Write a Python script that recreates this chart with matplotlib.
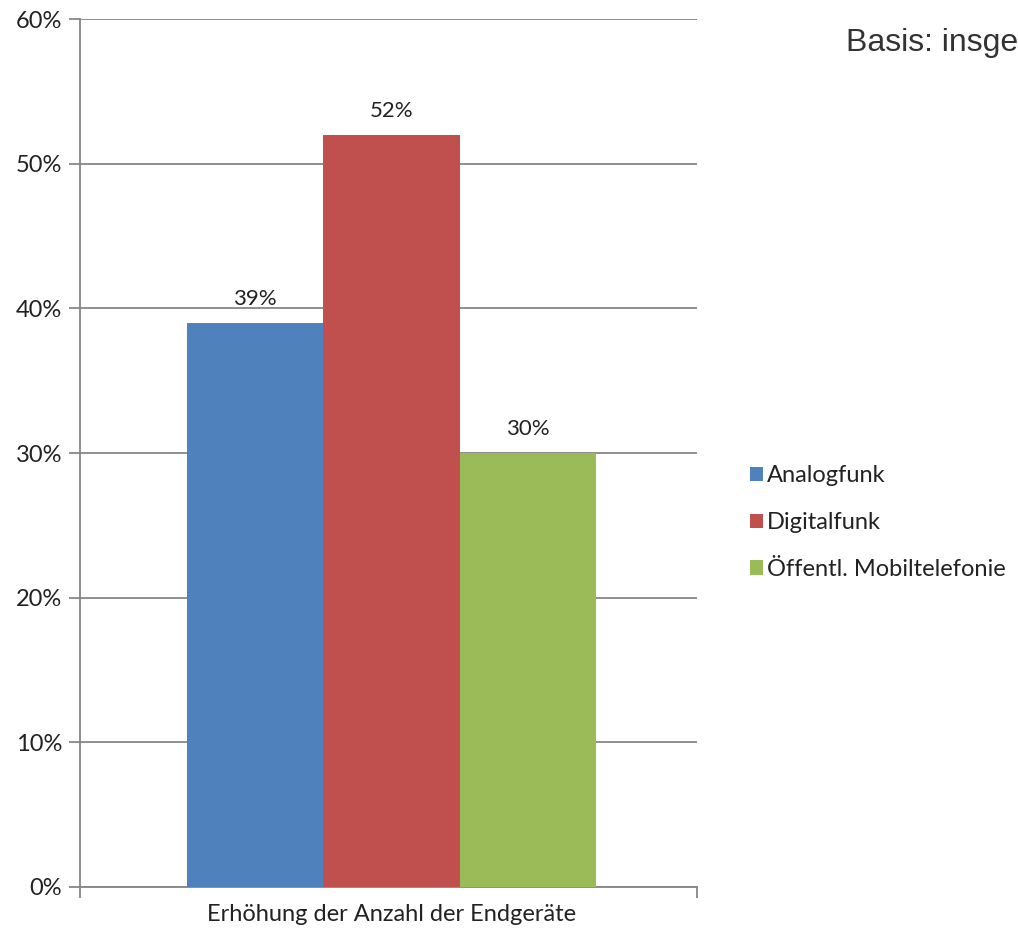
import matplotlib.pyplot as plt
from matplotlib.ticker import PercentFormatter

# survey shares per device type
category = "Erhöhung der Anzahl der Endgeräte"
series = ["Analogfunk", "Digitalfunk", "Öffentl. Mobiltelefonie"]
values = [39, 52, 30]
colors = ["#4f81bd", "#c0504d", "#9bbb59"]

grey = "#868686"
font = "Lato"
fs = 17

fig = plt.figure(figsize=(10.18, 9.38), dpi=100)
ax = fig.add_axes([0.0786, 0.0544, 0.606, 0.9253])

width = 0.221
center = 0.005
offsets = [center - width, center, center + width]
for name, val, col, off in zip(series, values, colors, offsets):
    ax.bar(off, val, width=width, color=col, label=name, zorder=3)
    ax.annotate(f"{val}%", (off, val), xytext=(0, 10), textcoords="offset points",
                ha="center", va="bottom", fontsize=fs - 1, family=font, color="#222222")

ax.set_xlim(-0.5, 0.5)
ax.set_ylim(0, 60)
ax.set_yticks(range(0, 61, 10))
ax.yaxis.set_major_formatter(PercentFormatter(decimals=0))
ax.set_xticks([0.005])
ax.set_xticklabels([category])
ax.set_xticks([-0.5, 0.5], minor=True)

ax.yaxis.grid(True, color=grey, linewidth=1.3, zorder=0)
for s in ["top", "right"]:
    ax.spines[s].set_visible(False)
for s in ["left", "bottom"]:
    ax.spines[s].set_color(grey)
    ax.spines[s].set_linewidth(1.3)

ax.tick_params(axis="y", length=8, width=1.3, color=grey, pad=5, labelsize=fs, labelcolor="#222222")
ax.tick_params(axis="x", which="major", length=0, pad=12, labelsize=fs, labelcolor="#222222")
ax.tick_params(axis="x", which="minor", length=8, width=1.3, color=grey)
for lab in ax.get_xticklabels() + ax.get_yticklabels():
    lab.set_family(font)

leg = fig.legend(loc="center left", bbox_to_anchor=(0.727, 0.443), frameon=False,
                 prop={"family": font, "size": fs}, handlelength=0.55, handleheight=0.55,
                 handletextpad=0.2, labelspacing=1.1, borderaxespad=0)
for t in leg.get_texts():
    t.set_color("#222222")

# note sits at the right edge of the figure
fig.text(1.0, 1 - 43 / 938, "Basis: insge", family="Liberation Sans",
         fontsize=23, color="#333333", va="center", ha="right")

fig.savefig("out.png", dpi=100)
